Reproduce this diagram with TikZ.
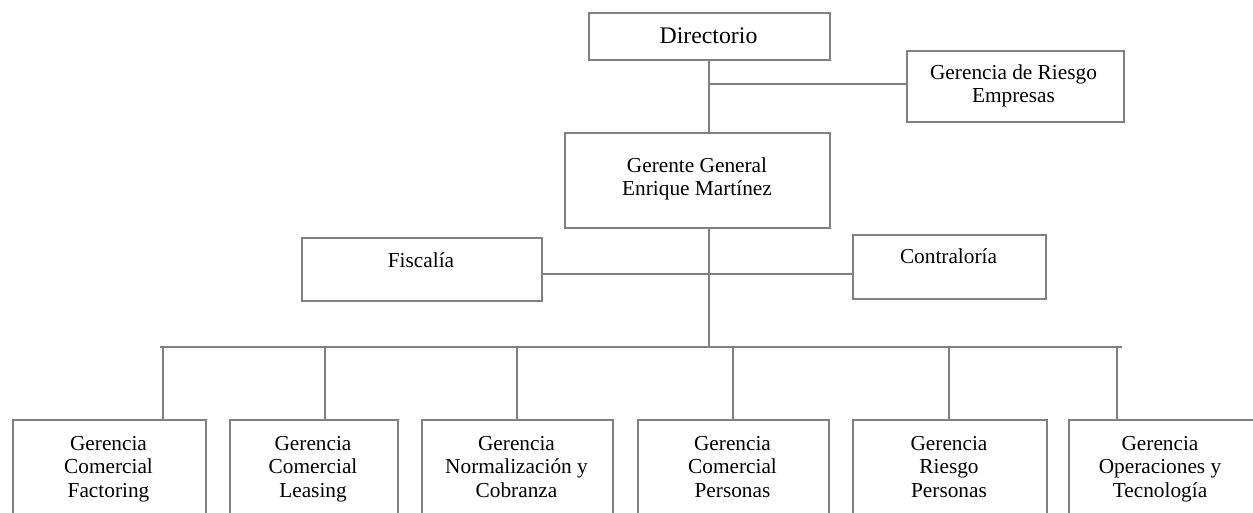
\documentclass[tikz,border=0pt]{standalone}
\usepackage{fontspec}
\setmainfont{Liberation Serif}
\definecolor{ln}{RGB}{128,128,128}
\newcommand\fl{\rule{0pt}{16pt}}
\begin{document}
\begin{tikzpicture}[x=1pt,y=-1pt,
  box/.style={draw=ln,line width=1.6pt,inner sep=0,anchor=north west},
  lbl/.style={inner sep=0,anchor=north,align=center,font=\fontsize{21.3}{23.5}\selectfont},
  conn/.style={draw=ln,line width=1.6pt}]
\clip (0,0) rectangle (1253,512);
% boxes
\node[box,minimum width=241,minimum height=47] (dir) at (588,12) {};
\node[box,minimum width=217,minimum height=71] (rie) at (906,50) {};
\node[box,minimum width=265,minimum height=95] (gg) at (564,132) {};
\node[box,minimum width=240,minimum height=63] (fis) at (301,237) {};
\node[box,minimum width=193,minimum height=64] (con) at (852,234) {};
\node[box,minimum width=193,minimum height=120] (b1) at (12,419) {};
\node[box,minimum width=168,minimum height=120] (b2) at (229,419) {};
\node[box,minimum width=191,minimum height=120] (b3) at (421,419) {};
\node[box,minimum width=191,minimum height=120] (b4) at (637,419) {};
\node[box,minimum width=194,minimum height=120] (b5) at (852,419) {};
\node[box,minimum width=220,minimum height=120] (b6) at (1068,419) {};
% labels
\node[lbl,font=\fontsize{23.8}{27}\selectfont] (dirT) at (708.5,27) {\fl Directorio};
\node[lbl] (rieT) at (1013.5,63) {\fl Gerencia de Riesgo\\Empresas};
\node[lbl] (ggT) at (697,156) {\fl Gerente General\\Enrique Martínez};
\node[lbl] (fisT) at (421,251) {\fl Fiscalía};
\node[lbl] (conT) at (948.5,247) {\fl Contraloría};
\node[lbl] (b1T) at (108.5,434) {\fl Gerencia\\Comercial\\Factoring};
\node[lbl] (b2T) at (313,434) {\fl Gerencia\\Comercial\\Leasing};
\node[lbl] (b3T) at (516.5,434) {\fl Gerencia\\Normalización y\\Cobranza};
\node[lbl] (b4T) at (732.5,434) {\fl Gerencia\\Comercial\\Personas};
\node[lbl] (b5T) at (949,434) {\fl Gerencia\\Riesgo\\Personas};
\node[lbl] (b6T) at (1160,434) {\fl Gerencia\\Operaciones y\\Tecnología};
% connector coordinates
\coordinate (sp1) at (709,84);
\coordinate (sp2) at (709,274);
\coordinate (busL) at (160,347);
\coordinate (busR) at (1122,347);
\coordinate (d1) at (163,347);
\coordinate (d2) at (325,347);
\coordinate (d3) at (517,347);
\coordinate (d4) at (733,347);
\coordinate (d5) at (949,347);
\coordinate (d6) at (1117,347);
% connectors
\draw[conn] (dir.south -| sp1) -- (gg.north -| sp1);
\draw[conn] (sp1) -- (rie.west |- sp1);
\draw[conn] (gg.south -| sp2) -- (busL -| sp2);
\draw[conn] (fis.east |- sp2) -- (con.west |- sp2);
\draw[conn] (busL) -- (busR);
\draw[conn] (d1) -- (b1.north -| d1);
\draw[conn] (d2) -- (b2.north -| d2);
\draw[conn] (d3) -- (b3.north -| d3);
\draw[conn] (d4) -- (b4.north -| d4);
\draw[conn] (d5) -- (b5.north -| d5);
\draw[conn] (d6) -- (b6.north -| d6);
\end{tikzpicture}
\end{document}
